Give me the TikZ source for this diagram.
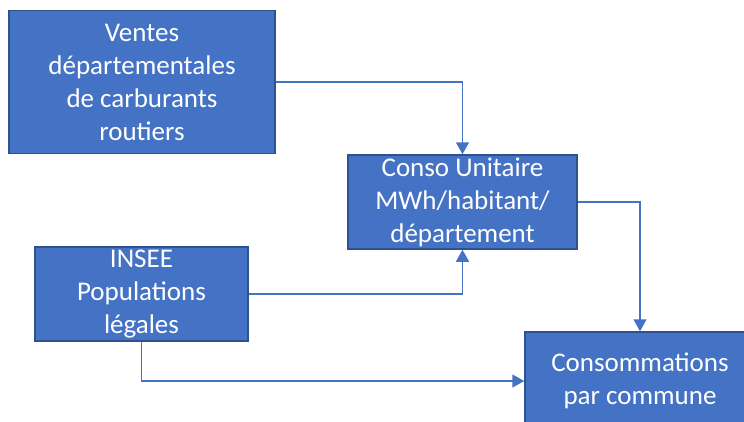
\documentclass[tikz,border=0pt]{standalone}
\usepackage{fontspec}
\setmainfont{Carlito}
\usetikzlibrary{arrows.meta}
\definecolor{boxfill}{HTML}{4472C4}
\definecolor{boxedge}{HTML}{2F528F}
\definecolor{linkcol}{HTML}{4472C4}
\tikzset{
  box/.style={draw=boxedge, line width=1.5pt, fill=boxfill, text=white, align=center,
    inner sep=0pt, font=\fontsize{27}{33}\selectfont},
  link/.style={draw=linkcol, line width=1.5pt, -{Triangle[width=13pt,length=12pt]}}
}
\begin{document}
\begin{tikzpicture}[x=1pt,y=-1pt]
\useasboundingbox (0,0) rectangle (744,421);
\clip (0,0) rectangle (744,421);
\fill[white] (0,0) rectangle (744,421);
\node[box, minimum width=266pt, minimum height=143pt] (A) at (142,82) {Ventes\\départementales\\de carburants\\routiers};
\node[box, minimum width=229pt, minimum height=94pt] (B) at (462.5,202) {Conso Unitaire\\MWh/habitant/\\département};
\node[box, minimum width=213pt, minimum height=94pt] (C) at (141.5,294) {INSEE\\Populations\\légales};
\node[box, minimum width=230pt, minimum height=98pt] (D) at (640,381) {Consommations\\par commune};
\draw[link] (A.east) -| (B.north);
\draw[link] (C.east) -| (B.south);
\draw[link] (B.east) -| (D.north);
\draw[link] (C.south) |- (D.west);
\end{tikzpicture}
\end{document}
